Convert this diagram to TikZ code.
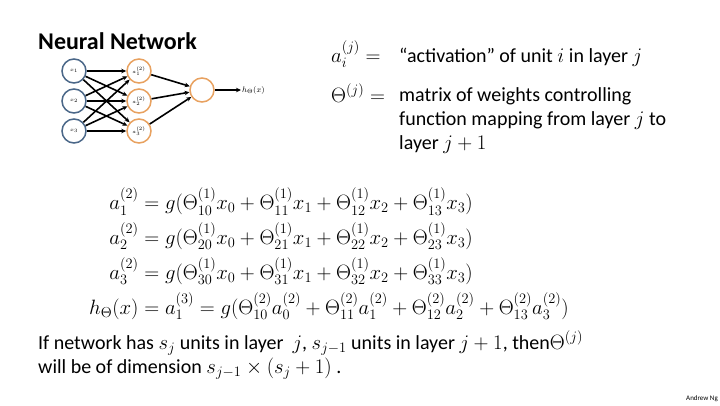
\documentclass[tikz,border=0pt]{standalone}
\usepackage[no-math]{fontspec}
\setmainfont{Carlito}
\usepackage{amsmath}
\usetikzlibrary{arrows.meta}
\definecolor{inblue}{HTML}{4A6788}
\definecolor{hidorange}{HTML}{E8A15F}
\begin{document}
\begin{tikzpicture}[x=1pt,y=-1pt,
  neuron/.style={circle,draw,line width=1.5pt,minimum size=24pt,inner sep=0pt,font=\fontsize{5}{6}\selectfont},
  inneuron/.style={neuron,draw=inblue},
  hidneuron/.style={neuron,draw=hidorange},
  conn/.style={line width=1.6pt,-{Stealth[length=5pt,width=4.5pt]}},
  deftext/.style={anchor=base west,font=\fontsize{20}{24}\selectfont,inner sep=0pt},
  defsym/.style={anchor=base west,font=\fontsize{22}{26}\selectfont,inner sep=0pt},
  bottomtext/.style={anchor=base west,font=\fontsize{20}{24}\selectfont,inner sep=0pt}]
\useasboundingbox[fill=white] (0,0) rectangle (720,405);

\node[anchor=base west,font=\bfseries\fontsize{24}{28}\selectfont,inner sep=0pt] (title) at (38,49) {Neural Network};

% network
\node[inneuron] (x1) at (74,71) {$x_1$};
\node[inneuron] (x2) at (74,101) {$x_2$};
\node[inneuron] (x3) at (74,131) {$x_3$};
\node[hidneuron] (a1) at (139,71) {$a_1^{(2)}$};
\node[hidneuron] (a2) at (139,101) {$a_2^{(2)}$};
\node[hidneuron] (a3) at (139,131) {$a_3^{(2)}$};
\node[hidneuron] (out) at (202,90) {};
\node[anchor=west,inner sep=1pt,font=\fontsize{8}{10}\selectfont] (h) at (241,90) {$h_\Theta(x)$};
\foreach \i in {1,2,3}{
  \foreach \j in {1,2,3}{
    \draw[conn] (x\i) -- (a\j);
  }
  \draw[conn] (a\i) -- (out);
}
\draw[conn] (out) -- (h);

% definitions
\node[defsym] (adef) at (331,62) {$a_i^{(j)} =$};
\node[deftext] (atext) at (399,62) {“activation” of unit $i$ in layer $j$};
\node[defsym] (tdef) at (331,102) {$\Theta^{(j)} =$};
\node[deftext] (t1) at (399,101) {matrix of weights controlling};
\node[deftext] (t2) at (399,125) {function mapping from layer $j$ to};
\node[deftext] (t3) at (399,149) {layer $j+1$};

% equations
\node[anchor=west,inner sep=0pt,font=\fontsize{22}{26}\selectfont] (eqs) at (89,255) {$\begin{aligned}
a_1^{(2)} &= g(\Theta_{10}^{(1)}x_0+\Theta_{11}^{(1)}x_1+\Theta_{12}^{(1)}x_2+\Theta_{13}^{(1)}x_3)\\[1.5pt]
a_2^{(2)} &= g(\Theta_{20}^{(1)}x_0+\Theta_{21}^{(1)}x_1+\Theta_{22}^{(1)}x_2+\Theta_{23}^{(1)}x_3)\\[1.5pt]
a_3^{(2)} &= g(\Theta_{30}^{(1)}x_0+\Theta_{31}^{(1)}x_1+\Theta_{32}^{(1)}x_2+\Theta_{33}^{(1)}x_3)\\[1.5pt]
h_\Theta(x) &= a_1^{(3)} = g(\Theta_{10}^{(2)}a_0^{(2)}+\Theta_{11}^{(2)}a_1^{(2)}+\Theta_{12}^{(2)}a_2^{(2)}+\Theta_{13}^{(2)}a_3^{(2)})
\end{aligned}$};

% bottom text
\node[bottomtext] (b1) at (38,349) {If network has $s_j$ units in layer\ \ $j$, $s_{j-1}$ units in layer $j+1$, then$\Theta^{(j)}$};
\node[bottomtext] (b2) at (38,373) {will be of dimension $s_{j-1}\times(s_j+1)$\ .};

\node[anchor=base east,inner sep=0pt,font=\fontsize{7}{8}\selectfont] (ng) at (718,400) {Andrew Ng};
\end{tikzpicture}
\end{document}
